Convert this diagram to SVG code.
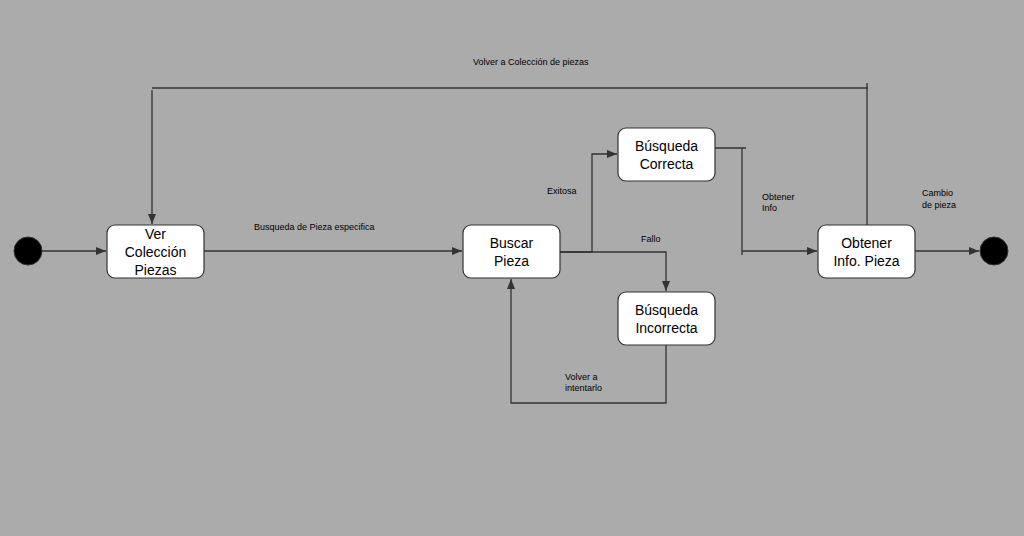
<svg xmlns="http://www.w3.org/2000/svg" width="1024" height="536" viewBox="0 0 1024 536">
<defs>
<marker id="arr" markerWidth="10" markerHeight="8" refX="10" refY="4" orient="auto" markerUnits="userSpaceOnUse">
<path d="M0,0 L10,4 L0,8 Z" fill="#333"/>
</marker>
<style>
.node rect{fill:#fff;stroke:#333;stroke-width:1.2}
.node text{font-family:"Liberation Sans",Arial,sans-serif;font-size:14px;fill:#000;text-anchor:middle}
.dot{fill:#000;stroke:#333;stroke-width:1}
.edge{fill:none;stroke:#333;stroke-width:1.3}
.lbl{font-family:"Liberation Sans",Arial,sans-serif;font-size:9px;fill:#000}
</style>
</defs>
<rect width="1024" height="536" fill="#ababab"/>
<g id="connectors">
<path class="edge" d="M42,251 H106" marker-end="url(#arr)"/>
<path class="edge" d="M204,251 H462" marker-end="url(#arr)"/>
<path class="edge" d="M560,252 H592 V154 H617" marker-end="url(#arr)"/>
<path class="edge" d="M560,252 H666 V291" marker-end="url(#arr)"/>
<path class="edge" d="M666,345 V403 H511 V279" marker-end="url(#arr)"/>
<path class="edge" d="M715,148 H746 M742,148 V255 M742,251 H817" marker-end="url(#arr)"/>
<path class="edge" d="M915,251 H979" marker-end="url(#arr)"/>
<path class="edge" d="M867,225 V83 M152,88 H868 M152,90 V224" marker-end="url(#arr)"/>
<text class="lbl" x="254" y="230">Busqueda de Pieza especifica</text>
<text class="lbl" x="547" y="194">Exitosa</text>
<text class="lbl" x="641" y="242">Fallo</text>
<text class="lbl" x="565" y="380">Volver a</text>
<text class="lbl" x="565" y="391">intentarlo</text>
<text class="lbl" x="762" y="200">Obtener</text>
<text class="lbl" x="762" y="211">Info</text>
<text class="lbl" x="922" y="196">Cambio</text>
<text class="lbl" x="922" y="208">de pieza</text>
<text class="lbl" x="473" y="65">Volver a Colección de piezas</text>
</g>
<g id="start"><circle class="dot" cx="28" cy="251" r="14"/></g>
<g id="end"><circle class="dot" cx="994" cy="251" r="14"/></g>
<g id="ver" class="node"><rect x="107" y="225" width="97" height="53" rx="8"/>
<text x="155.5" y="239">Ver</text><text x="155.5" y="257">Colección</text><text x="155.5" y="275">Piezas</text></g>
<g id="buscar" class="node"><rect x="463" y="225" width="97" height="53" rx="8"/>
<text x="511.5" y="248">Buscar</text><text x="511.5" y="266">Pieza</text></g>
<g id="correcta" class="node"><rect x="618" y="128" width="97" height="53" rx="8"/>
<text x="666.5" y="151">Búsqueda</text><text x="666.5" y="169">Correcta</text></g>
<g id="incorrecta" class="node"><rect x="618" y="292" width="97" height="53" rx="8"/>
<text x="666.5" y="315">Búsqueda</text><text x="666.5" y="333">Incorrecta</text></g>
<g id="obtener" class="node"><rect x="818" y="225" width="97" height="53" rx="8"/>
<text x="866.5" y="248">Obtener</text><text x="866.5" y="266">Info. Pieza</text></g>
</svg>
